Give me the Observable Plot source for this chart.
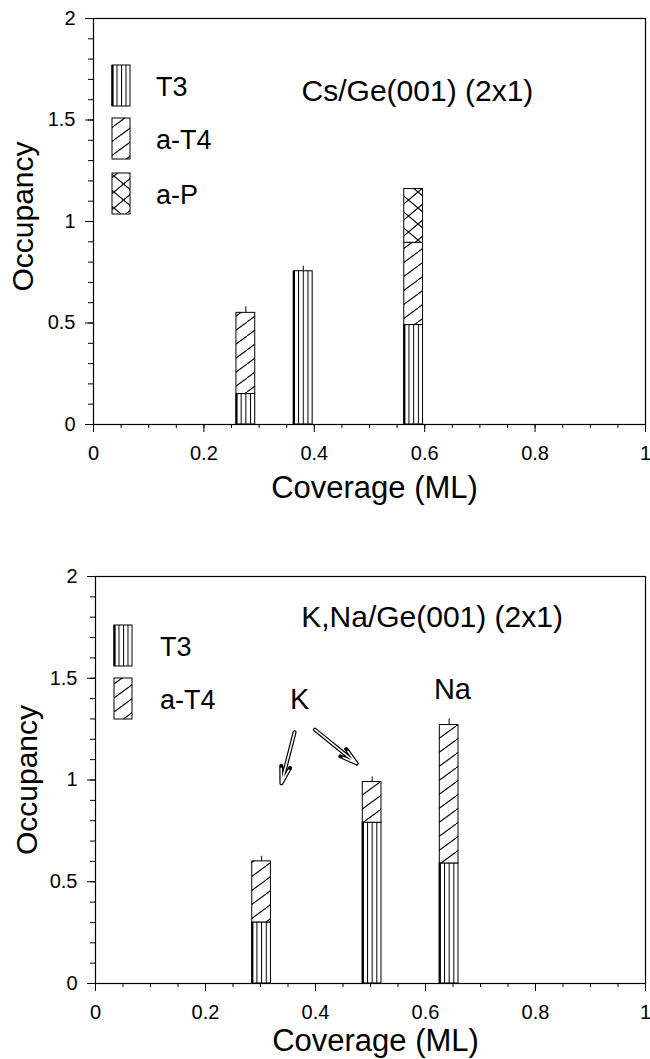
<!DOCTYPE html>
<html>
<head>
<meta charset="utf-8">
<script src="https://cdn.jsdelivr.net/npm/d3@7"></script>
<script src="https://cdn.jsdelivr.net/npm/@observablehq/plot@0.6"></script>
<style>
  html, body { margin: 0; padding: 0; background: white; }
  #chart svg { display: block; }
</style>
</head>
<body>
<div id="chart"></div>
<script>
// ---------- data: Cs/Ge(001) (2x1) ----------
const csCoverage = [0.276, 0.380, 0.580];
const csT3  = [0.15, 0.755, 0.49];
const csAT4 = [0.40, 0.00, 0.405];
const csAP  = [0.00, 0.00, 0.265];
const csErr = [0.03, 0.025, 0.0];

// ---------- data: K,Na/Ge(001) (2x1) ----------
const knaCoverage = [0.302, 0.503, 0.643];
const knaT3  = [0.30, 0.79, 0.59];
const knaAT4 = [0.30, 0.20, 0.68];
const knaErr = [0.025, 0.025, 0.03];

// ---------- annotations ----------
const csTitle = "Cs/Ge(001) (2x1)";
const csTitlePos = [0.377, 1.64];
const knaTitle = "K,Na/Ge(001) (2x1)";
const knaTitlePos = [0.374, 1.80];
const labelText = ["K", "Na"];
const labelX = [0.371, 0.649];
const labelY = [1.395, 1.445];
const arrowX1 = [0.362, 0.399];
const arrowY1 = [1.235, 1.247];
const arrowX2 = [0.338, 0.475];
const arrowY2 = [0.984, 1.081];

// ---------- ticks ----------
const xTicks = [0, 0.2, 0.4, 0.6, 0.8, 1];
const xMinorTicks = d3.range(0, 21).map(i => i / 20);
const yTicks = [0, 0.5, 1, 1.5, 2];
const yMinorTicks = d3.range(0, 21).map(i => i / 10);

const xLabel = "Coverage (ML)";
const yLabel = "Occupancy";

// ---------- helpers ----------
const barWidth = 0.034;
const FONT = "'Liberation Sans', Arial, Helvetica, sans-serif";

function stack(coverage, layers) {
  const segs = [];
  coverage.forEach((x, i) => {
    let base = 0;
    layers.forEach(l => {
      const v = l.values[i];
      if (v > 0) {
        segs.push({x, y1: base, y2: base + v, key: l.key});
        base += v;
      }
    });
  });
  return segs;
}
function totals(coverage, layers, err) {
  return coverage.map((x, i) => ({
    x,
    top: d3.sum(layers, l => l.values[i]),
    err: err[i]
  }));
}

function patternDefs(p) {
  return `
  <pattern id="${p}-v" patternUnits="objectBoundingBox" width="0.25" height="1">
    <line x1="0.5" y1="0" x2="0.5" y2="4000" stroke="black" stroke-width="1"/>
  </pattern>
  <pattern id="${p}-d" patternUnits="userSpaceOnUse" width="19" height="14">
    <path d="M0,14 L19,0" stroke="black" stroke-width="1.1" stroke-linecap="square" fill="none"/>
  </pattern>
  <pattern id="${p}-x" patternUnits="userSpaceOnUse" width="19" height="16">
    <path d="M0,16 L19,0 M0,0 L19,16" stroke="black" stroke-width="1.1" stroke-linecap="square" fill="none"/>
  </pattern>`;
}

function makePanel(opts) {
  const {prefix, coverage, layers, err, title, titlePos, height,
         marginLeft, marginTop, marginBottom, legend, extraMarks} = opts;
  const segs = stack(coverage, layers);
  const tops = totals(coverage, layers, err);
  const fills = {T3: `url(#${prefix}-v)`, "a-T4": `url(#${prefix}-d)`, "a-P": `url(#${prefix}-x)`};
  const marks = [];
  layers.forEach(l => {
    marks.push(Plot.rect(segs.filter(s => s.key === l.key), {
      x1: d => d.x - barWidth / 2, x2: d => d.x + barWidth / 2,
      y1: "y1", y2: "y2",
      fill: "white", stroke: "none"
    }));
    marks.push(Plot.rect(segs.filter(s => s.key === l.key), {
      x1: d => d.x - barWidth / 2, x2: d => d.x + barWidth / 2,
      y1: "y1", y2: "y2",
      fill: fills[l.key], stroke: "black", strokeWidth: 1
    }));
  });
  marks.push(Plot.ruleX(segs.filter(s => s.key === "T3"), {
    x: d => d.x - barWidth / 2, y1: "y1", y2: "y2", stroke: "black", strokeWidth: 2.2
  }));
  marks.push(Plot.ruleX(tops.filter(d => d.err > 0), {
    x: "x", y1: "top", y2: d => d.top + d.err, stroke: "black", strokeWidth: 1
  }));
  marks.push(Plot.frame({stroke: "black", strokeWidth: 1.2}));
  marks.push(Plot.axisX({ticks: xMinorTicks, tickSize: 4, tickFormat: () => "", label: null}));
  marks.push(Plot.axisX({ticks: xTicks, tickSize: 8, tickPadding: 13,
    tickFormat: d => String(d), label: null}));
  marks.push(Plot.axisY({ticks: yMinorTicks, tickSize: 5, tickFormat: () => "", label: null}));
  marks.push(Plot.axisY({ticks: yTicks, tickSize: 8, tickPadding: 10,
    tickFormat: d => String(d), label: null}));
  marks.push(Plot.text([xLabel], {frameAnchor: "bottom", text: d => d, dy: opts.xLabelDy, dx: 5,
    fontSize: 31, textAnchor: "middle", lineAnchor: "middle", fill: "black"}));
  marks.push(Plot.text([yLabel], {frameAnchor: "left", text: d => d, dx: opts.yLabelDx, dy: opts.yLabelDy,
    rotate: -90, fontSize: 30, textAnchor: "middle", lineAnchor: "middle", fill: "black"}));
  marks.push(Plot.text([title], {x: titlePos[0], y: titlePos[1], text: d => d,
    textAnchor: "start", lineAnchor: "middle", fontSize: 30, fill: "black"}));
  if (extraMarks) marks.push(...extraMarks);

  const svg = Plot.plot({
    width: 650, height,
    marginLeft, marginRight: 5, marginTop, marginBottom,
    x: {domain: [0, 1], axis: null},
    y: {domain: [0, 2], axis: null},
    style: {fontFamily: FONT, fontSize: "20px", color: "black", background: "white", overflow: "hidden"},
    marks
  });
  d3.select(svg).insert("defs", ":first-child").html(patternDefs(prefix));
  d3.select(svg).selectAll("g[aria-label$='tick label']").attr("font-size", 20);

  const g = d3.select(svg).append("g").attr("font-family", FONT).attr("text-anchor", "start");
  legend.items.forEach((key, i) => {
    const y = legend.ys[i];
    g.append("rect").attr("x", legend.x).attr("y", y).attr("width", 18).attr("height", legend.h)
      .attr("fill", "white").attr("stroke", "none");
    g.append("rect").attr("x", legend.x).attr("y", y).attr("width", 18).attr("height", legend.h)
      .attr("fill", fills[key]).attr("stroke", "black").attr("stroke-width", 1);
    if (key === "T3") {
      g.append("line").attr("x1", legend.x + 0.5).attr("x2", legend.x + 0.5)
        .attr("y1", y).attr("y2", y + legend.h).attr("stroke", "black").attr("stroke-width", 2.2);
    }
    g.append("text").attr("x", legend.labelX).attr("y", y + legend.h / 2 + 1)
      .attr("dy", "0.35em").attr("font-size", 27).attr("fill", "black")
      .attr("text-anchor", "start").text(key);
  });
  return svg;
}

const csLayers = [
  {key: "T3", values: csT3},
  {key: "a-T4", values: csAT4},
  {key: "a-P", values: csAP}
];
const knaLayers = [
  {key: "T3", values: knaT3},
  {key: "a-T4", values: knaAT4}
];

const topPanel = makePanel({
  prefix: "cs", coverage: csCoverage, layers: csLayers, err: csErr,
  title: csTitle, titlePos: csTitlePos,
  height: 530, marginLeft: 93, marginTop: 18, marginBottom: 106,
  xLabelDy: 64, yLabelDx: -70, yLabelDy: -5,
  legend: {items: ["T3", "a-T4", "a-P"], x: 112, ys: [65, 118, 173], h: 41, labelX: 156}
});

const labelRows = labelText.map((t, i) => ({t, x: labelX[i], y: labelY[i]}));
const arrowRows = arrowX1.map((x1, i) => ({x1, y1: arrowY1[i], x2: arrowX2[i], y2: arrowY2[i]}));

const bottomPanel = makePanel({
  prefix: "kna", coverage: knaCoverage, layers: knaLayers, err: knaErr,
  title: knaTitle, titlePos: knaTitlePos,
  height: 529, marginLeft: 95, marginTop: 46, marginBottom: 76,
  xLabelDy: 58, yLabelDx: -68, yLabelDy: 0,
  legend: {items: ["T3", "a-T4"], x: 114, ys: [95, 148], h: 41, labelX: 160},
  extraMarks: [
    Plot.text(labelRows, {x: "x", y: "y", text: "t", fontSize: 29, fill: "black", lineAnchor: "middle"}),
    Plot.arrow(arrowRows, {x1: "x1", y1: "y1", x2: "x2", y2: "y2", stroke: "black",
      strokeWidth: 4, headLength: 14, headAngle: 30}),
    Plot.arrow(arrowRows, {x1: "x1", y1: "y1", x2: "x2", y2: "y2", stroke: "white",
      strokeWidth: 1.6, headLength: 14, headAngle: 30})
  ]
});

document.getElementById("chart").append(topPanel, bottomPanel);
</script>
</body>
</html>
